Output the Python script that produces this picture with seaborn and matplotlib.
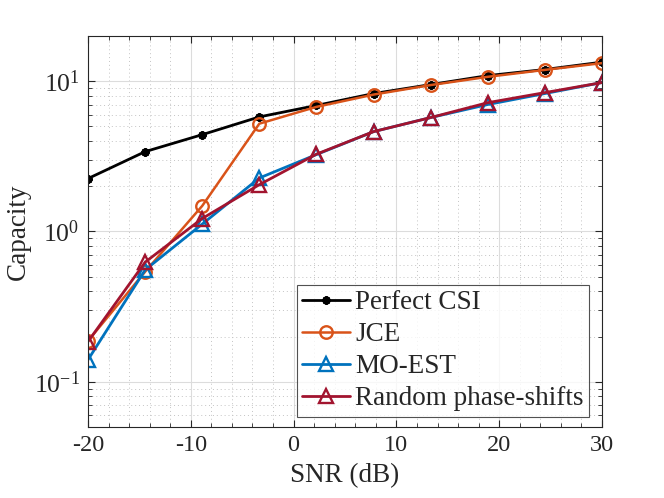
import numpy as np
import pandas as pd
import matplotlib
matplotlib.use("Agg")
import matplotlib.pyplot as plt
import seaborn as sns
from matplotlib.ticker import MultipleLocator, LogLocator, NullFormatter, FuncFormatter

snr_db = [-20, -14.44, -8.89, -3.33, 2.22, 7.78, 13.33, 18.89, 24.44, 30]
perfect_csi = [2.25, 3.4, 4.41, 5.79, 6.9, 8.28, 9.5, 10.9, 11.97, 13.4]
jce = [0.187, 0.54, 1.48, 5.22, 6.75, 8.15, 9.43, 10.7, 11.9, 13.2]
mo_est = [0.14, 0.555, 1.12, 2.27, 3.25, 4.62, 5.73, 7.0, 8.28, 9.8]
random_ps = [0.185, 0.625, 1.22, 2.05, 3.27, 4.62, 5.73, 7.2, 8.4, 9.8]

labels = ["Perfect CSI", "JCE", "MO-EST", "Random phase-shifts"]
series = [perfect_csi, jce, mo_est, random_ps]

sns.set_style("ticks")
plt.rcParams["font.family"] = ["Liberation Serif", "DejaVu Serif"]
plt.rcParams["mathtext.fontset"] = "custom"
plt.rcParams["mathtext.rm"] = "Liberation Serif"
plt.rcParams["mathtext.it"] = "Liberation Serif:italic"
plt.rcParams["axes.unicode_minus"] = False

fig = plt.figure(figsize=(6.64, 4.98), dpi=100)
ax = fig.add_axes([0.1325, 0.1426, 0.7741, 0.7851])

colors = ["black", "#D95319", "#0072BD", "#A2142F"]
markers = [(8, 2, 0), "o", "^", "^"]
msizes = [6, 9, 10, 10]
lws = [2.0, 1.8, 2.0, 2.0]

for lab, vals, c, m, ms, lw in zip(labels, series, colors, markers, msizes, lws):
    df = pd.DataFrame({"snr": snr_db, "cap": vals})
    sns.lineplot(data=df, x="snr", y="cap", ax=ax, color=c, marker=m,
                 markersize=ms, linewidth=lw, label=lab,
                 markerfacecolor="none" if m != markers[0] else c,
                 markeredgecolor=c, markeredgewidth=1.7)

ax.set_yscale("log")
ax.set_xlim(-20, 30)
ax.set_ylim(0.05, 20)
ax.xaxis.set_major_locator(MultipleLocator(10))
ax.xaxis.set_minor_locator(MultipleLocator(2))
ax.xaxis.set_major_formatter(FuncFormatter(lambda v, p: f"{int(round(v))}"))
ax.yaxis.set_major_locator(LogLocator(base=10))
ax.yaxis.set_minor_locator(LogLocator(base=10, subs=np.arange(2, 10)))
ax.yaxis.set_minor_formatter(NullFormatter())
ax.yaxis.set_major_formatter(FuncFormatter(
    lambda v, p: "10$^{\\mathrm{" + str(int(round(np.log10(v)))) + "}}$"))

ax.grid(which="major", color="#dcdcdc", linewidth=0.8, linestyle="-")
ax.grid(which="minor", color="#c4c4c4", linewidth=0.7, linestyle=(0, (1, 3)))
ax.set_axisbelow(True)

ax.tick_params(which="both", direction="in", top=True, right=True,
               labelsize=17.5, colors="#262626")
ax.tick_params(axis="y", which="major", labelsize=18.5)
ax.tick_params(which="major", length=5, pad=6)
ax.tick_params(which="minor", length=3)
for sp in ax.spines.values():
    sp.set_color("#262626")
    sp.set_linewidth(0.8)

ax.set_xlabel("SNR (dB)", fontsize=19.5, color="#262626", labelpad=5)
ax.set_ylabel("Capacity", fontsize=19.5, color="#262626", labelpad=2)

leg = ax.legend(loc="upper left", bbox_to_anchor=(0.4066, 0.364), fontsize=19.5,
                frameon=True, fancybox=False, edgecolor="#262626",
                handlelength=1.75, handletextpad=0.2, borderpad=0.2,
                labelspacing=0.26, borderaxespad=0)
leg.get_frame().set_linewidth(0.8)

plt.savefig("out.png", dpi=100)
plt.close()
